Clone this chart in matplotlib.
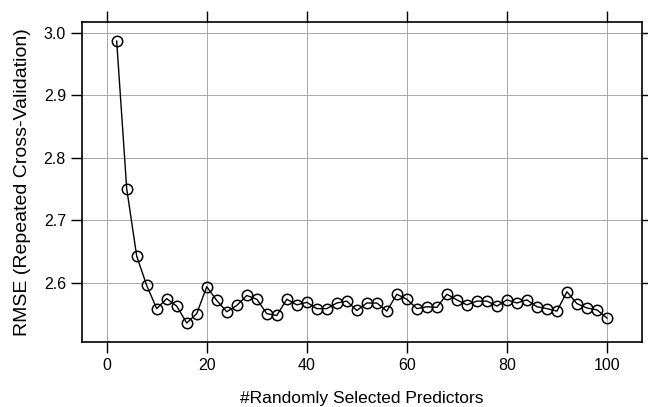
import matplotlib
matplotlib.use('Agg')
import numpy as np
import matplotlib.pyplot as plt

predictors = list(range(2, 101, 2))
rmse = [2.987, 2.751, 2.643, 2.596, 2.559, 2.575, 2.563, 2.536, 2.551, 2.594,
        2.572, 2.554, 2.564, 2.580, 2.574, 2.551, 2.548, 2.574, 2.565, 2.569,
        2.559, 2.559, 2.568, 2.571, 2.556, 2.568, 2.568, 2.555, 2.582, 2.574,
        2.559, 2.562, 2.561, 2.582, 2.573, 2.565, 2.571, 2.571, 2.563, 2.573,
        2.568, 2.573, 2.562, 2.559, 2.555, 2.586, 2.567, 2.560, 2.557, 2.544]
x_ticks = [0, 20, 40, 60, 80, 100]
y_ticks = [2.6, 2.7, 2.8, 2.9, 3.0]

plt.rcParams['font.family'] = ['Liberation Sans', 'DejaVu Sans']

fig = plt.figure(figsize=(6.48, 4.07), dpi=100)
ax = fig.add_axes([0.1265, 0.1597, 0.8642, 0.787])

ax.plot(predictors, rmse, color='black', linewidth=1.0, marker='o', markersize=7.5,
        markerfacecolor='none', markeredgecolor='black', markeredgewidth=1.1, zorder=3)

ax.set_xlim(-4.94, 107)
ax.set_ylim(2.5056, 3.018)
ax.set_xticks(x_ticks)
ax.set_yticks(y_ticks)
ax.set_yticklabels([f'{v:.1f}' for v in y_ticks])
ax.grid(True, color='#a8a8a8', linewidth=0.7)
ax.set_axisbelow(True)

ax.tick_params(direction='out', length=8, width=1.0, labelsize=11.5, colors='black',
               top=True, right=True, labeltop=False, labelright=False)
for side in ax.spines.values():
    side.set_linewidth(1.2)

ax.set_xlabel('#Randomly Selected Predictors', fontsize=12.5, labelpad=13)
ax.set_ylabel('RMSE (Repeated Cross-Validation)', fontsize=14, labelpad=9)

fig.savefig('out.png', dpi=100)
plt.close(fig)
